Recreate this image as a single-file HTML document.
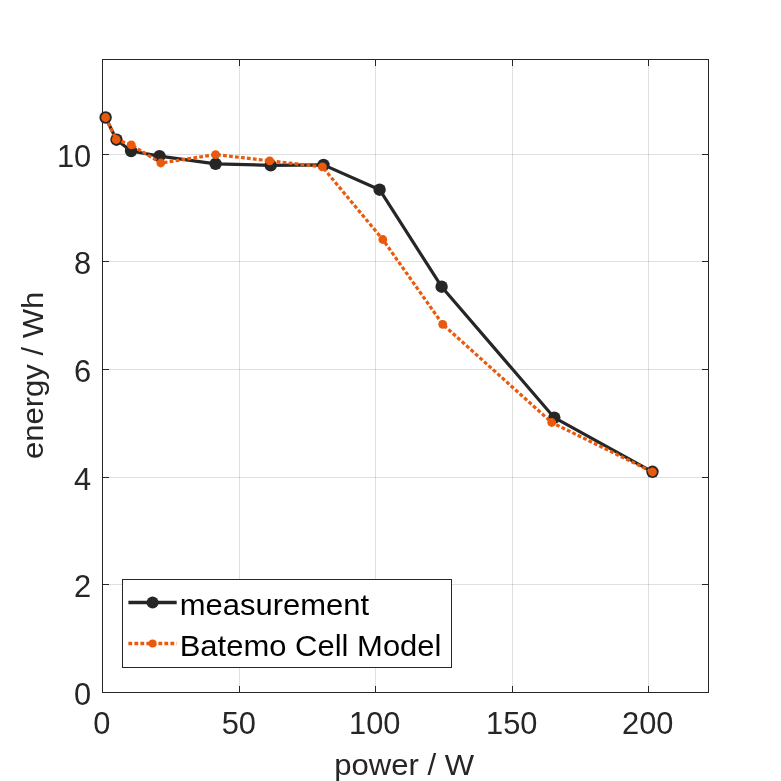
<!DOCTYPE html>
<html><head><meta charset="utf-8"><title>energy vs power</title>
<style>html,body{margin:0;padding:0;background:#fff;}svg{display:block;}text{font-family:"Liberation Sans",Arial,Helvetica,sans-serif;}</style></head><body>
<svg width="781" height="781" viewBox="0 0 781 781">
<rect x="0" y="0" width="781" height="781" fill="#fff"/>
<g fill="#262626" fill-opacity="0.15">
<rect x="239" y="59" width="1" height="633"/>
<rect x="375" y="59" width="1" height="633"/>
<rect x="512" y="59" width="1" height="633"/>
<rect x="648" y="59" width="1" height="633"/>
<rect x="102" y="584" width="606" height="1"/>
<rect x="102" y="477" width="606" height="1"/>
<rect x="102" y="369" width="606" height="1"/>
<rect x="102" y="261" width="606" height="1"/>
<rect x="102" y="154" width="606" height="1"/>
</g>
<g fill="#262626">
<rect x="102" y="59" width="607" height="1"/>
<rect x="102" y="692" width="607" height="1"/>
<rect x="102" y="59" width="1" height="634"/>
<rect x="708" y="59" width="1" height="634"/>
<rect x="239" y="686" width="1" height="6"/>
<rect x="239" y="60" width="1" height="6"/>
<rect x="375" y="686" width="1" height="6"/>
<rect x="375" y="60" width="1" height="6"/>
<rect x="512" y="686" width="1" height="6"/>
<rect x="512" y="60" width="1" height="6"/>
<rect x="648" y="686" width="1" height="6"/>
<rect x="648" y="60" width="1" height="6"/>
<rect x="103" y="584" width="6" height="1"/>
<rect x="702" y="584" width="6" height="1"/>
<rect x="103" y="477" width="6" height="1"/>
<rect x="702" y="477" width="6" height="1"/>
<rect x="103" y="369" width="6" height="1"/>
<rect x="702" y="369" width="6" height="1"/>
<rect x="103" y="261" width="6" height="1"/>
<rect x="702" y="261" width="6" height="1"/>
<rect x="103" y="154" width="6" height="1"/>
<rect x="702" y="154" width="6" height="1"/>
</g>
<polyline points="105.6,117.5 116.5,139.7 131.1,151.0 159.5,156.1 215.6,163.8 270.7,165.4 323.5,164.9 379.6,189.7 441.6,286.7 554.3,417.7 652.5,471.8" fill="none" stroke="#262626" stroke-width="3.2" stroke-linejoin="round"/>
<g fill="#262626">
<circle cx="105.6" cy="117.5" r="6.2"/>
<circle cx="116.5" cy="139.7" r="6.2"/>
<circle cx="131.1" cy="151.0" r="6.2"/>
<circle cx="159.5" cy="156.1" r="6.2"/>
<circle cx="215.6" cy="163.8" r="6.2"/>
<circle cx="270.7" cy="165.4" r="6.2"/>
<circle cx="323.5" cy="164.9" r="6.2"/>
<circle cx="379.6" cy="189.7" r="6.2"/>
<circle cx="441.6" cy="286.7" r="6.2"/>
<circle cx="554.3" cy="417.7" r="6.2"/>
<circle cx="652.5" cy="471.8" r="6.2"/>
</g>
<polyline points="105.6,117.5 116.2,139.5 131.3,144.9 160.8,163.0 215.6,154.6 269.7,160.8 322.4,166.9 382.8,239.5 442.7,324.3 551.7,422.5 652.5,472.0" fill="none" stroke="#e95a0c" stroke-width="3.2" stroke-dasharray="3.8 2.2" stroke-linejoin="round"/>
<g fill="#e95a0c">
<circle cx="105.6" cy="117.5" r="4.4"/>
<circle cx="116.2" cy="139.5" r="4.4"/>
<circle cx="131.3" cy="144.9" r="4.4"/>
<circle cx="160.8" cy="163.0" r="4.4"/>
<circle cx="215.6" cy="154.6" r="4.4"/>
<circle cx="269.7" cy="160.8" r="4.4"/>
<circle cx="322.4" cy="166.9" r="4.4"/>
<circle cx="382.8" cy="239.5" r="4.4"/>
<circle cx="442.7" cy="324.3" r="4.4"/>
<circle cx="551.7" cy="422.5" r="4.4"/>
<circle cx="652.5" cy="472.0" r="4.4"/>
</g>
<g fill="#262626">
<text transform="translate(101.8,734.4) scale(0.975,1)" text-anchor="middle" font-size="31.6">0</text>
<text transform="translate(238.8,734.4) scale(0.975,1)" text-anchor="middle" font-size="31.6">50</text>
<text transform="translate(374.8,734.4) scale(0.975,1)" text-anchor="middle" font-size="31.6">100</text>
<text transform="translate(511.8,734.4) scale(0.975,1)" text-anchor="middle" font-size="31.6">150</text>
<text transform="translate(647.8,734.4) scale(0.975,1)" text-anchor="middle" font-size="31.6">200</text>
<text transform="translate(91.2,704.9) scale(0.975,1)" text-anchor="end" font-size="31.6">0</text>
<text transform="translate(91.2,596.9) scale(0.975,1)" text-anchor="end" font-size="31.6">2</text>
<text transform="translate(91.2,489.9) scale(0.975,1)" text-anchor="end" font-size="31.6">4</text>
<text transform="translate(91.2,381.9) scale(0.975,1)" text-anchor="end" font-size="31.6">6</text>
<text transform="translate(91.2,273.9) scale(0.975,1)" text-anchor="end" font-size="31.6">8</text>
<text transform="translate(91.2,166.9) scale(0.975,1)" text-anchor="end" font-size="31.6">10</text>
<text transform="translate(404.2,775.2) scale(1.051,1)" text-anchor="middle" font-size="29.6">power / W</text>
<text transform="translate(43.4,375.4) rotate(-90) scale(1.0485,1)" text-anchor="middle" font-size="29.6">energy / Wh</text>
</g>
<rect x="122.5" y="579.5" width="329" height="88" fill="#fff" stroke="#262626" stroke-width="1" shape-rendering="crispEdges"/>
<line x1="128.4" y1="602.5" x2="176.7" y2="602.5" stroke="#262626" stroke-width="3.5"/>
<circle cx="152.6" cy="602.5" r="6.0" fill="#262626"/>
<line x1="128.4" y1="643.5" x2="176.7" y2="643.5" stroke="#e95a0c" stroke-width="3.5" stroke-dasharray="3.8 2.2"/>
<circle cx="152.6" cy="643.5" r="4.0" fill="#e95a0c"/>
<g fill="#000">
<text transform="translate(179.7,615.2) scale(1.047,1)" text-anchor="start" font-size="29.6">measurement</text>
<text transform="translate(179.7,656.2) scale(1.047,1)" text-anchor="start" font-size="29.6">Batemo Cell Model</text>
</g>
</svg></body></html>
